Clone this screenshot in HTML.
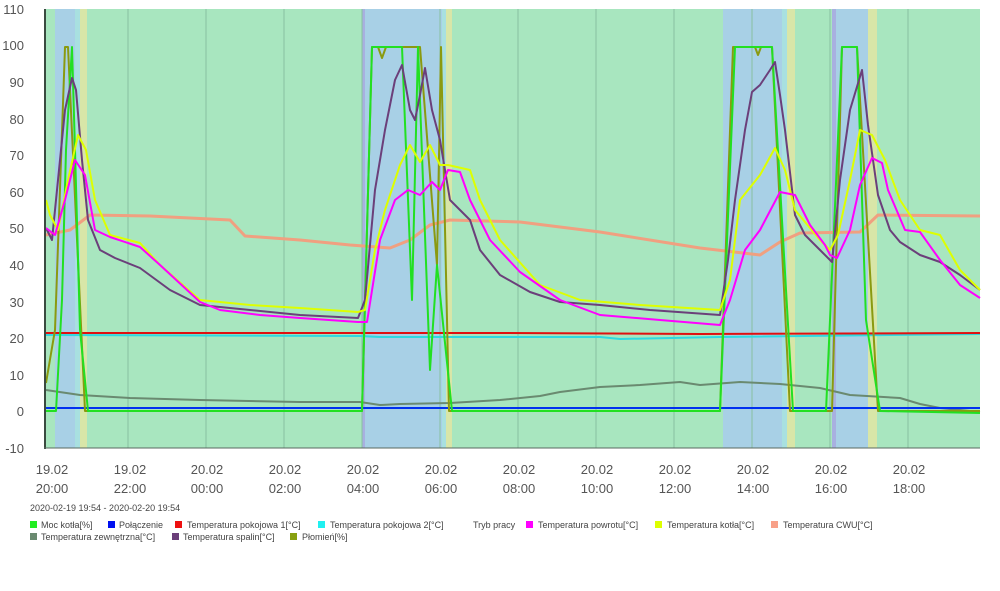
<!DOCTYPE html>
<html><head><meta charset="utf-8"><style>
body{margin:0;background:#fff;width:1000px;height:586px;overflow:hidden;font-family:"Liberation Sans",sans-serif;}
svg text{font-family:"Liberation Sans",sans-serif;}
</style></head><body>
<svg width="1000" height="586" xmlns="http://www.w3.org/2000/svg">
<rect x="46" y="9" width="934" height="439" fill="#a8e6bf"/>
<g fill="#a8d0e6">
<rect x="55" y="9" width="20" height="439"/>
<rect x="362" y="9" width="80" height="439"/>
<rect x="723" y="9" width="59" height="439"/>
<rect x="834" y="9" width="34" height="439"/>
</g>
<g fill="#a8e0e0"><rect x="75" y="9" width="5" height="439"/><rect x="442" y="9" width="4" height="439"/><rect x="782" y="9" width="5" height="439"/></g>
<g fill="#d8e6a8"><rect x="80" y="9" width="7" height="439"/><rect x="446" y="9" width="6" height="439"/><rect x="787" y="9" width="8" height="439"/><rect x="868" y="9" width="9" height="439"/></g>
<g fill="#a8b0e0"><rect x="362" y="9" width="3" height="439"/><rect x="832" y="9" width="4" height="439"/></g>
<g stroke="#88c0a0" stroke-width="1">
<line x1="128" y1="9" x2="128" y2="448"/><line x1="206" y1="9" x2="206" y2="448"/><line x1="284" y1="9" x2="284" y2="448"/><line x1="362" y1="9" x2="362" y2="448"/><line x1="440" y1="9" x2="440" y2="448"/><line x1="518" y1="9" x2="518" y2="448"/><line x1="596" y1="9" x2="596" y2="448"/><line x1="674" y1="9" x2="674" y2="448"/><line x1="752" y1="9" x2="752" y2="448"/><line x1="830" y1="9" x2="830" y2="448"/><line x1="908" y1="9" x2="908" y2="448"/>
</g>
<g fill="none" stroke-linejoin="round">
<polyline stroke="#f0a080" stroke-width="3" points="46,235 70,230 90,215 150,216 230,220 245,236 300,240 350,245 390,248 410,240 430,225 450,220 520,222 600,232 700,248 760,255 780,242 800,233 860,232 878,215 980,216"/>
<polyline stroke="#30d8e0" stroke-width="2" points="46,335 360,336 380,337 450,337 600,337 620,339 720,337 980,334"/>
<polyline stroke="#e01010" stroke-width="2" points="46,333 300,333 500,333 700,334 980,333"/>
<polyline stroke="#6a8a70" stroke-width="2" points="46,390 80,395 130,398 200,400 300,402 360,402 380,405 400,404 450,403 500,400 540,396 560,392 600,387 640,385 680,382 700,385 740,382 780,384 820,388 850,395 900,398 920,404 940,408 980,412"/>
<polyline stroke="#0030f0" stroke-width="2" points="46,408 980,408"/>
<polyline stroke="#8a9a10" stroke-width="2" points="46,383 55,330 65,47 68,47 85,411 362,411 372,47 378,47 382,58 386,47 420,47 437,265 441,47 449,411 720,411 733,47 755,47 758,55 761,47 772,47 790,411 832,411 842,47 857,47 878,411 980,411"/>
<polyline stroke="#22e022" stroke-width="2" points="46,411 56,411 62,300 66,150 72,47 75,150 80,330 88,411 362,411 372,47 402,47 412,300 418,47 430,370 437,265 452,411 720,411 735,47 772,47 793,411 826,411 842,47 857,47 866,320 880,411 980,413"/>
<polyline stroke="#6b3f7a" stroke-width="2" points="46,228 52,240 58,180 65,110 72,78 76,90 82,160 88,220 100,250 115,258 140,268 170,290 200,305 250,310 300,315 358,318 365,300 375,190 385,130 395,80 402,65 410,110 415,120 420,95 425,68 432,110 440,140 450,200 460,210 470,220 480,250 500,275 530,292 560,302 600,305 650,310 720,315 728,260 735,200 745,130 752,92 760,85 770,70 775,62 780,95 785,130 795,215 805,235 820,250 832,262 840,180 850,110 862,70 868,125 878,195 890,230 900,242 920,255 940,262 960,275 980,290"/>
<polyline stroke="#ddff00" stroke-width="2" points="46,200 50,215 58,230 68,180 78,135 86,150 95,200 110,235 140,243 160,265 200,300 250,305 300,308 358,312 365,310 375,250 385,210 400,165 410,145 420,162 430,145 440,165 448,165 470,170 480,200 500,240 540,285 580,300 640,305 720,310 730,280 740,200 760,175 775,148 785,170 795,210 820,240 830,250 838,235 850,180 860,130 872,135 885,160 900,200 920,230 940,235 960,270 980,290"/>
<polyline stroke="#ff00ff" stroke-width="2" points="46,228 55,235 65,200 75,160 85,175 95,230 110,237 140,247 160,265 200,302 220,310 260,315 300,318 358,322 367,322 380,240 395,200 408,190 420,195 432,182 440,190 448,170 460,172 470,200 490,240 520,272 560,300 600,315 660,320 720,325 730,300 745,250 760,230 780,192 795,195 810,225 825,245 830,255 837,258 850,230 860,185 872,158 882,163 888,190 905,230 920,232 940,260 960,285 980,298"/>
</g>
<line x1="45" y1="9" x2="45" y2="449" stroke="#3a4a40" stroke-width="2"/>
<line x1="44" y1="448" x2="980" y2="448" stroke="#5a6a60" stroke-width="1"/>
<g font-size="13" fill="#555" text-anchor="end">
<text x="24" y="14">110</text><text x="24" y="50">100</text><text x="24" y="87">90</text><text x="24" y="124">80</text><text x="24" y="160">70</text><text x="24" y="197">60</text><text x="24" y="233">50</text><text x="24" y="270">40</text><text x="24" y="307">30</text><text x="24" y="343">20</text><text x="24" y="380">10</text><text x="24" y="416">0</text><text x="24" y="453">-10</text>
</g>
<g font-size="13" fill="#555" text-anchor="middle">
<text x="52" y="474">19.02</text><text x="52" y="493">20:00</text>
<text x="130" y="474">19.02</text><text x="130" y="493">22:00</text>
<text x="207" y="474">20.02</text><text x="207" y="493">00:00</text>
<text x="285" y="474">20.02</text><text x="285" y="493">02:00</text>
<text x="363" y="474">20.02</text><text x="363" y="493">04:00</text>
<text x="441" y="474">20.02</text><text x="441" y="493">06:00</text>
<text x="519" y="474">20.02</text><text x="519" y="493">08:00</text>
<text x="597" y="474">20.02</text><text x="597" y="493">10:00</text>
<text x="675" y="474">20.02</text><text x="675" y="493">12:00</text>
<text x="753" y="474">20.02</text><text x="753" y="493">14:00</text>
<text x="831" y="474">20.02</text><text x="831" y="493">16:00</text>
<text x="909" y="474">20.02</text><text x="909" y="493">18:00</text>
</g>
<text x="30" y="511" font-size="9" fill="#444">2020-02-19 19:54 - 2020-02-20 19:54</text>
<g font-size="9" fill="#444">
<rect x="30" y="521" width="7" height="7" fill="#22ee22"/><text x="41" y="528">Moc kotła[%]</text>
<rect x="108" y="521" width="7" height="7" fill="#0010f0"/><text x="119" y="528">Połączenie</text>
<rect x="175" y="521" width="7" height="7" fill="#ee1010"/><text x="187" y="528">Temperatura pokojowa 1[°C]</text>
<rect x="318" y="521" width="7" height="7" fill="#20f0f0"/><text x="330" y="528">Temperatura pokojowa 2[°C]</text>
<text x="473" y="528">Tryb pracy</text>
<rect x="526" y="521" width="7" height="7" fill="#ff00ff"/><text x="538" y="528">Temperatura powrotu[°C]</text>
<rect x="655" y="521" width="7" height="7" fill="#ddff00"/><text x="667" y="528">Temperatura kotła[°C]</text>
<rect x="771" y="521" width="7" height="7" fill="#f8a088"/><text x="783" y="528">Temperatura CWU[°C]</text>
<rect x="30" y="533" width="7" height="7" fill="#6a8a70"/><text x="41" y="540">Temperatura zewnętrzna[°C]</text>
<rect x="172" y="533" width="7" height="7" fill="#6b3f7a"/><text x="183" y="540">Temperatura spalin[°C]</text>
<rect x="290" y="533" width="7" height="7" fill="#88a010"/><text x="302" y="540">Płomień[%]</text>
</g>
</svg>
</body></html>
